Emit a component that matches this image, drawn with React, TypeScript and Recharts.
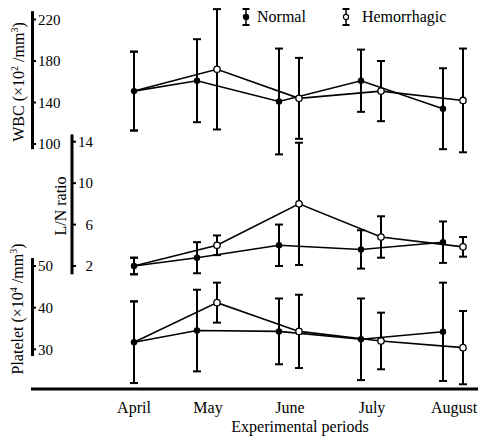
import React from 'react';
import { ComposedChart, Line, XAxis, YAxis, ErrorBar, ReferenceLine, Legend } from 'recharts';

const months = ['April', 'May', 'June', 'July', 'August'];

// WBC (x10^2 /mm3): mean and SD
const wbcNormal = [151, 161, 141, 161, 134];
const wbcNormalSd = [38, 40, 51, 30, 39];
const wbcHemo = [151, 172, 144, 151, 142];
const wbcHemoSd = [38, 58, 39, 29, 50];

// L/N ratio
const lnNormal = [2.0, 2.8, 4.0, 3.6, 4.3];
const lnNormalSd = [0.8, 1.5, 2.0, 1.85, 2.0];
const lnHemo = [2.0, 4.0, 8.0, 4.8, 3.85];
const lnHemoSd = [0.8, 0.95, 5.9, 2.0, 0.95];

// Platelet (x10^4 /mm3)
const pltNormal = [31.7, 34.5, 34.3, 32.4, 34.2];
const pltNormalSd = [9.8, 9.8, 7.9, 9.8, 11.8];
const pltHemo = [31.7, 41.2, 34.3, 32.0, 30.4];
const pltHemoSd = [9.8, 4.8, 8.8, 6.8, 8.8];

const wbcTicks = [100, 140, 180, 220];
const lnTicks = [2, 6, 10, 14];
const pltTicks = [30, 40, 50];

const SERIF = '"Liberation Serif", "Times New Roman", serif';
const W = 478;
const H = 436;
const PLOT_L = 31;
const PLOT_T = 2;
const PLOT_B = 389;

// month spacing on the page, used to set the x domain
const CX0 = 126;
const STEP = 82;
const xData = (px: number) => (px - CX0) / STEP;
const xDomain = [xData(PLOT_L), xData(W)];
const NORMAL_SHIFT = -11 / STEP;
const HEMO_SHIFT = 9 / STEP;
const APRIL_X = 8 / STEP;

// y domain so that v1 sits at pixel y1 and v2 at y2
const yDomain = (v1: number, y1: number, v2: number, y2: number) => {
  const k = (y2 - y1) / (v2 - v1);
  return [v1 + (PLOT_B - y1) / k, v1 + (PLOT_T - y1) / k];
};
const wbcDomain = yDomain(100, 144, 220, 19.5);
const lnDomain = yDomain(2, 266, 14, 141.7);
const pltDomain = yDomain(30, 349.3, 50, 266);

const rows = (vals: number[], sds: number[], shift: number) =>
  vals.map((v, i) => ({ x: i === 0 ? APRIL_X : i + shift, v, e: sds[i] }));

const solidDot = (p: any) => (
  <circle key={`s${p.index}`} cx={p.cx} cy={p.cy} r={3.2} fill="#000" />
);
const openDot = (p: any) =>
  p.index === 0 ? (
    <g key={`o${p.index}`} />
  ) : (
    <circle key={`o${p.index}`} cx={p.cx} cy={p.cy} r={3.2} fill="#fff" stroke="#000" strokeWidth={1.3} />
  );

const axisTick = (axisX: number, endAt?: number) => (p: any) => (
  <g>
    <line x1={axisX} x2={axisX + 4} y1={p.y} y2={p.y} stroke="#000" strokeWidth={2} />
    <text
      x={endAt ?? axisX + 6}
      y={p.y}
      dy="0.35em"
      textAnchor={endAt ? 'end' : 'start'}
      fontFamily={SERIF}
      fontSize={15}
      fill="#000"
    >
      {p.payload.value}
    </text>
  </g>
);

const LegendIcon = ({ open }: { open: boolean }) => (
  <svg width={12} height={18} style={{ display: 'block' }}>
    <line x1={6} x2={6} y1={1} y2={17} stroke="#000" strokeWidth={1.5} />
    <line x1={2.5} x2={9.5} y1={1} y2={1} stroke="#000" strokeWidth={2} />
    <line x1={2.5} x2={9.5} y1={17} y2={17} stroke="#000" strokeWidth={2} />
    <circle cx={6} cy={9} r={2.6} fill={open ? '#fff' : '#000'} stroke="#000" strokeWidth={1.2} />
  </svg>
);

const legendContent = () => (
  <div style={{ display: 'flex', alignItems: 'center', fontFamily: SERIF, fontSize: 16, color: '#000' }}>
    <LegendIcon open={false} />
    <span style={{ marginLeft: 5 }}>Normal</span>
    <span style={{ width: 34 }} />
    <LegendIcon open />
    <span style={{ marginLeft: 10 }}>Hemorrhagic</span>
  </div>
);

const axisSegment = (px: number, lo: number, hi: number) => [
  { x: xData(px), y: lo },
  { x: xData(px), y: hi },
];

export default function App() {
  const xTicks = months.map((_, i) => (i === 0 ? APRIL_X : i));
  return (
    <div style={{ position: 'absolute', left: 0, top: 0, width: W, height: H, background: '#fff' }}>
      <ComposedChart width={W} height={H} margin={{ top: PLOT_T, right: 0, bottom: 0, left: PLOT_L }}>
        <XAxis
          type="number"
          dataKey="x"
          domain={xDomain}
          allowDataOverflow
          ticks={xTicks}
          interval={0}
          tickFormatter={(v: number) => months[Math.round(v)]}
          height={H - PLOT_B}
          tickSize={0}
          tickMargin={13}
          tickLine={false}
          axisLine={{ stroke: '#000', strokeWidth: 3 }}
          tick={{ fill: '#000', fontSize: 16, fontFamily: SERIF }}
        />
        <YAxis yAxisId="wbc" type="number" domain={wbcDomain} allowDataOverflow ticks={wbcTicks} interval={0}
          mirror axisLine={false} tickLine={false} tickSize={0} tick={axisTick(32)} />
        <YAxis yAxisId="ln" type="number" domain={lnDomain} allowDataOverflow ticks={lnTicks} interval={0}
          mirror axisLine={false} tickLine={false} tickSize={0} tick={axisTick(72, 93)} />
        <YAxis yAxisId="plt" type="number" domain={pltDomain} allowDataOverflow ticks={pltTicks} interval={0}
          mirror axisLine={false} tickLine={false} tickSize={0} tick={axisTick(32)} />

        <ReferenceLine yAxisId="wbc" segment={axisSegment(32.5, 95, 228)} stroke="#000" strokeWidth={3} ifOverflow="visible" />
        <ReferenceLine yAxisId="ln" segment={axisSegment(72, 1.2, 14.7)} stroke="#000" strokeWidth={3} ifOverflow="visible" />
        <ReferenceLine yAxisId="plt" segment={axisSegment(32.5, 28.4, 51.9)} stroke="#000" strokeWidth={3} ifOverflow="visible" />

        <Legend verticalAlign="middle" align="center" layout="horizontal" content={legendContent}
          wrapperStyle={{ top: 8, left: 240, width: 230 }} />

        <Line yAxisId="wbc" data={rows(wbcNormal, wbcNormalSd, NORMAL_SHIFT)} dataKey="v" type="linear"
          stroke="#000" strokeWidth={1.6} dot={solidDot} activeDot={false} isAnimationActive={false}>
          <ErrorBar dataKey="e" direction="y" width={4} stroke="#000" strokeWidth={2} isAnimationActive={false} />
        </Line>
        <Line yAxisId="wbc" data={rows(wbcHemo, wbcHemoSd, HEMO_SHIFT)} dataKey="v" type="linear"
          stroke="#000" strokeWidth={1.6} dot={openDot} activeDot={false} isAnimationActive={false}>
          <ErrorBar dataKey="e" direction="y" width={4} stroke="#000" strokeWidth={2} isAnimationActive={false} />
        </Line>

        <Line yAxisId="ln" data={rows(lnNormal, lnNormalSd, NORMAL_SHIFT)} dataKey="v" type="linear"
          stroke="#000" strokeWidth={1.6} dot={solidDot} activeDot={false} isAnimationActive={false}>
          <ErrorBar dataKey="e" direction="y" width={4} stroke="#000" strokeWidth={2} isAnimationActive={false} />
        </Line>
        <Line yAxisId="ln" data={rows(lnHemo, lnHemoSd, HEMO_SHIFT)} dataKey="v" type="linear"
          stroke="#000" strokeWidth={1.6} dot={openDot} activeDot={false} isAnimationActive={false}>
          <ErrorBar dataKey="e" direction="y" width={4} stroke="#000" strokeWidth={2} isAnimationActive={false} />
        </Line>

        <Line yAxisId="plt" data={rows(pltNormal, pltNormalSd, NORMAL_SHIFT)} dataKey="v" type="linear"
          stroke="#000" strokeWidth={1.6} dot={solidDot} activeDot={false} isAnimationActive={false}>
          <ErrorBar dataKey="e" direction="y" width={4} stroke="#000" strokeWidth={2} isAnimationActive={false} />
        </Line>
        <Line yAxisId="plt" data={rows(pltHemo, pltHemoSd, HEMO_SHIFT)} dataKey="v" type="linear"
          stroke="#000" strokeWidth={1.6} dot={openDot} activeDot={false} isAnimationActive={false}>
          <ErrorBar dataKey="e" direction="y" width={4} stroke="#000" strokeWidth={2} isAnimationActive={false} />
        </Line>
      </ComposedChart>

      <svg width={W} height={H} style={{ position: 'absolute', left: 0, top: 0, pointerEvents: 'none' }}
        fontFamily={SERIF} fill="#000">
        <text transform="translate(18,82) rotate(-90)" textAnchor="middle" dy="0.35em" fontSize={16}>
          WBC (×10<tspan fontSize={10} dy={-6}>2</tspan><tspan dy={6}> /mm</tspan>
          <tspan fontSize={10} dy={-6}>3</tspan><tspan dy={6}>)</tspan>
        </text>
        <text transform="translate(60,206) rotate(-90)" textAnchor="middle" dy="0.35em" fontSize={16}>
          L/N ratio
        </text>
        <text transform="translate(17,309) rotate(-90)" textAnchor="middle" dy="0.35em" fontSize={16}>
          Platelet (×10<tspan fontSize={10} dy={-6}>4</tspan><tspan dy={6}> /mm</tspan>
          <tspan fontSize={10} dy={-6}>3</tspan><tspan dy={6}>)</tspan>
        </text>
        <text x={300} y={432} textAnchor="middle" fontSize={16}>
          Experimental periods
        </text>
      </svg>
    </div>
  );
}
